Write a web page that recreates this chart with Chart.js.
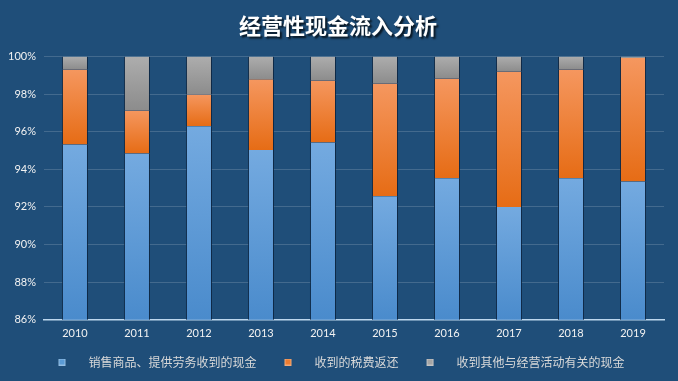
<!DOCTYPE html>
<html><head><meta charset="utf-8">
<script src="https://cdn.jsdelivr.net/npm/chart.js@4"></script>
<style>
html,body{margin:0;padding:0;background:#1F4E79;}
#wrap{width:678px;height:381px;position:relative;}
</style></head>
<body><div id="wrap"><canvas id="c" width="678" height="381"></canvas></div>
<script>
const categories = ['2010','2011','2012','2013','2014','2015','2016','2017','2018','2019'];
const seriesNames = ['销售商品、提供劳务收到的现金','收到的税费返还','收到其他与经营活动有关的现金'];
const salesCash = [95.32, 94.84, 96.29, 95.02, 95.43, 92.57, 93.53, 91.99, 93.53, 93.35];
const taxRefund = [3.99, 2.29, 1.69, 3.76, 3.29, 5.99, 5.30, 7.21, 5.78, 6.56];
const otherCash = [0.69, 2.87, 2.02, 1.22, 1.28, 1.44, 1.17, 0.80, 0.69, 0.09];
const yTicks = ['86%','88%','90%','92%','94%','96%','98%','100%'];
const yMin = 86, yMax = 100;

const FONT = '"Noto Sans CJK SC", "Noto Sans", sans-serif';
const TICKFONT = 'Lato, "Liberation Sans", sans-serif';
const allSeries = [salesCash, taxRefund, otherCash];
const gradStops = [['#74AAE0','#4A8BCC'],['#F5975F','#E66C15'],['#ADADAD','#8C8C8C']];
const solid = ['#5B9BD5','#ED7D31','#A5A5A5'];

function makeGrad(di){
  return function(ctx){
    const chart = ctx.chart;
    if (!chart.chartArea || ctx.type !== 'data') return solid[di];
    const i = ctx.dataIndex;
    let bottom = 0;
    for (let k=0;k<di;k++) bottom += allSeries[k][i];
    const top = bottom + allSeries[di][i];
    const ys = chart.scales.y;
    const yT = ys.getPixelForValue(Math.min(top, yMax));
    const yB = ys.getPixelForValue(Math.max(bottom, yMin));
    if (!isFinite(yT) || !isFinite(yB) || yB - yT < 1) return solid[di];
    const g = chart.ctx.createLinearGradient(0, yT, 0, yB);
    g.addColorStop(0, gradStops[di][0]);
    g.addColorStop(1, gradStops[di][1]);
    return g;
  };
}

const LEAD = 19;
function legendIcon(color){
  const cv = document.createElement('canvas');
  cv.width = 43; cv.height = 7;
  const c = cv.getContext('2d');
  c.fillStyle = color;
  c.fillRect(LEAD,0,7,7);
  c.strokeStyle = 'rgba(255,255,255,0.35)';
  c.strokeRect(LEAD+0.5,0.5,6,6);
  return cv;
}
const icons = solid.map(legendIcon);

const datasets = allSeries.map((arr, di) => ({
  label: seriesNames[di],
  data: arr,
  backgroundColor: makeGrad(di),
  borderColor: 'rgba(12,35,62,0.85)',
  borderWidth: {left:1, right:1, top:0, bottom:0},
  borderSkipped: false,
  barPercentage: 0.42,
  categoryPercentage: 1.0
}));

const titleShadow = {
  id: 'titleShadow',
  afterInit(chart){
    const tb = chart.titleBlock;
    if (!tb) return;
    const orig = tb.draw.bind(tb);
    tb.draw = function(){
      const ctx = chart.ctx;
      ctx.save();
      ctx.translate(6, 0);
      ctx.shadowColor = 'rgba(0,0,0,0.75)';
      ctx.shadowOffsetX = 2; ctx.shadowOffsetY = 2; ctx.shadowBlur = 2;
      orig();
      ctx.restore();
    };
  }
};

new Chart(document.getElementById('c'), {
  type: 'bar',
  data: { labels: categories, datasets },
  plugins: [titleShadow],
  options: {
    responsive: false,
    animation: false,
    layout: { padding: { left: 0, right: 14, top: 4, bottom: 3 } },
    plugins: {
      title: {
        display: true,
        text: '经营性现金流入分析',
        color: '#FFFFFF',
        font: { family: FONT, size: 22, weight: 'bold' },
        padding: { top: 8, bottom: 18 }
      },
      legend: {
        position: 'bottom',
        labels: {
          color: '#D9D9D9',
          font: { family: FONT, size: 12 },
          usePointStyle: true,
          pointStyleWidth: 43,
          boxHeight: 7,
          padding: 9,
          generateLabels(chart){
            const items = Chart.defaults.plugins.legend.labels.generateLabels(chart);
            items.forEach((it, k) => { it.pointStyle = icons[k]; it.fontColor = '#D9D9D9'; });
            return items;
          }
        }
      },
      tooltip: { enabled: false }
    },
    scales: {
      x: {
        stacked: true,
        grid: { display: false, drawTicks: false },
        border: { display: true, color: '#BDD7EE', width: 1.5 },
        ticks: { color: '#F2F2F2', font: { family: TICKFONT, size: 11 }, padding: 7 }
      },
      y: {
        stacked: true,
        min: yMin, max: yMax,
        grid: { color: 'rgba(255,255,255,0.16)', drawTicks: false },
        border: { display: false },
        ticks: {
          stepSize: 2,
          color: '#F2F2F2',
          font: { family: TICKFONT, size: 11 },
          padding: 8,
          callback: (v) => yTicks[Math.round((v - yMin) / 2)]
        }
      }
    }
  }
});
</script></body></html>
